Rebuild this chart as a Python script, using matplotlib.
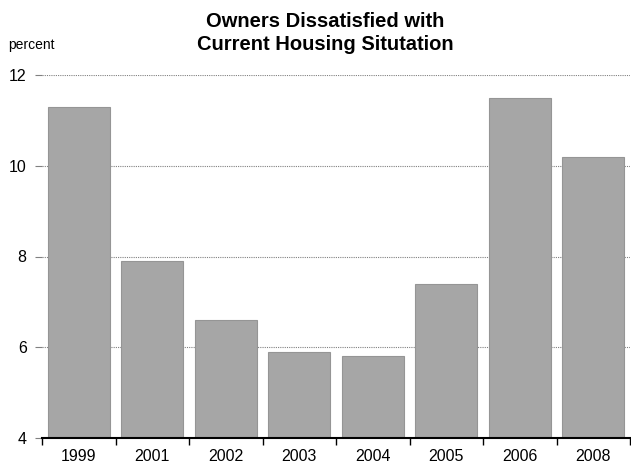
import numpy as np
import matplotlib.pyplot as plt
from matplotlib import font_manager

years = ['1999', '2001', '2002', '2003', '2004', '2005', '2006', '2008']
pct = [11.3, 7.9, 6.6, 5.9, 5.8, 7.4, 11.5, 10.2]

names = {f.name for f in font_manager.fontManager.ttflist}
fam = 'Liberation Sans Narrow' if 'Liberation Sans Narrow' in names else 'Liberation Sans'
plt.rcParams['font.family'] = [fam, 'DejaVu Sans']

fig = plt.figure(figsize=(6.31, 4.66), dpi=100)
ax = fig.add_axes([42/631, 28/466, 588/631, 363/466])

x = np.arange(len(years))
ax.bar(x, pct, width=0.84, bottom=0, color='#a6a6a6', edgecolor='#959595', lw=0.8, zorder=3)

ax.set_xlim(-0.5, len(years) - 0.5)
ax.set_ylim(4, 12)
ax.set_yticks([4, 6, 8, 10, 12])
ax.set_yticklabels(['4', '6', '8', '10', '12'], fontsize=11.5)
ax.yaxis.grid(True, color='#808080', ls=(0, (1, 1)), lw=0.8, zorder=0)

# year labels centred under bars, tick marks on category boundaries
ax.set_xticks(x)
ax.set_xticklabels(years, fontsize=11.5)
ax.tick_params(axis='x', length=0, pad=8)
ax.set_xticks(np.arange(len(years) + 1) - 0.5, minor=True)
ax.tick_params(axis='x', which='minor', length=5, width=1, color='black', direction='out')
ax.tick_params(axis='y', length=5, width=0.8, color='#808080', pad=6)

for s in ['top', 'right', 'left']:
    ax.spines[s].set_visible(False)
ax.spines['bottom'].set_linewidth(1.5)
ax.spines['bottom'].set_zorder(4)

fig.text(325/631, 1 - 33/466, 'Owners Dissatisfied with\nCurrent Housing Situtation',
         ha='center', va='center', fontsize=14.5, fontweight='bold', linespacing=1.3)
fig.text(8/631, 1 - 45/466, 'percent', ha='left', va='center', fontsize=10)

fig.savefig('out.png', dpi=100)
